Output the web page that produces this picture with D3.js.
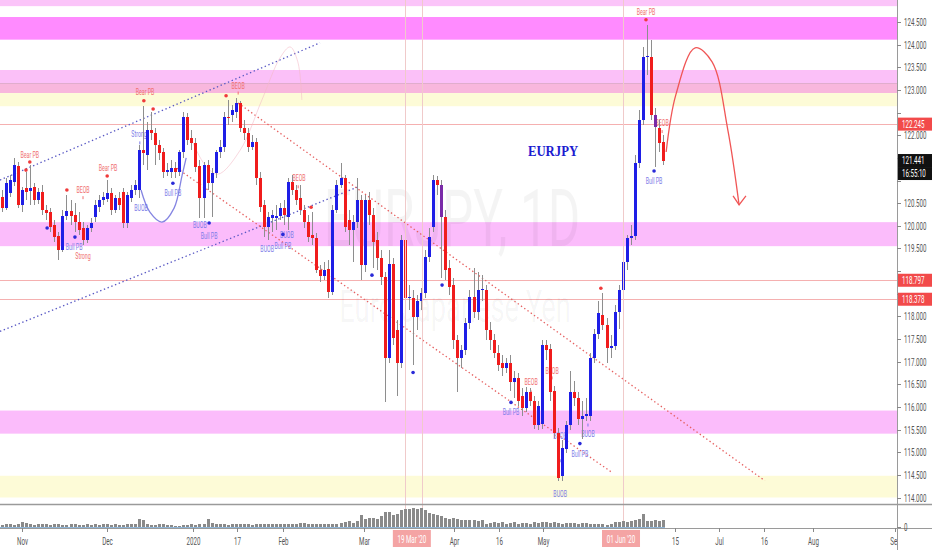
<!DOCTYPE html>
<html><head><meta charset="utf-8">
<script src="https://cdnjs.cloudflare.com/ajax/libs/d3/7.8.5/d3.min.js"></script>
<style>html,body{margin:0;padding:0;background:#fff;}svg{display:block;}</style>
</head><body><svg id="c" width="932" height="550"></svg>
<script>
// ---------------- DATA ----------------
const opens = [
120.63,120.39,120.72,120.96,121.32,120.46,120.83,120.77,120.85,120.57,
120.74,120.35,120.30,120.01,119.77,119.46,120.21,120.32,120.23,120.08,
119.95,119.68,119.95,120.19,120.41,120.57,120.59,120.72,120.35,120.61,
120.74,120.06,120.61,120.79,120.79,121.67,121.56,122.12,122.05,121.78,
121.63,121.19,121.19,121.27,121.19,121.63,122.40,121.94,121.83,121.32,
120.61,121.34,120.94,121.16,121.63,121.74,122.40,122.45,122.51,122.71,
122.16,122.05,121.74,121.85,121.05,120.46,119.97,120.17,120.17,120.21,
120.39,120.19,120.96,120.79,120.61,120.35,120.08,119.79,119.73,119.02,
118.89,119.04,118.53,120.35,120.90,121.05,120.12,119.90,120.08,120.57,
119.13,120.57,120.23,119.68,119.28,118.86,117.09,119.15,117.69,116.96,
119.68,118.40,118.40,117.98,118.35,118.51,119.31,119.97,121.01,120.90,
120.19,119.06,118.69,117.47,117.07,117.25,117.85,118.42,118.09,118.58,
118.58,117.69,117.47,117.20,116.98,116.87,116.98,116.54,116.63,116.25,
115.97,116.32,116.14,115.59,115.63,117.36,117.29,116.36,115.43,114.48,
115.08,115.59,116.32,116.19,115.74,115.81,115.81,117.09,117.62,118.02,
117.80,117.31,117.34,118.09,118.58,119.20,119.73,119.77,121.38,122.34,
123.72,123.73,122.45,122.16,121.85];
const closes = [
120.39,120.94,121.01,121.34,120.46,120.79,120.74,120.83,120.57,120.74,
120.35,120.28,119.97,119.75,119.46,120.21,120.32,120.21,120.08,119.90,
119.68,119.95,120.06,120.46,120.57,120.63,120.72,120.35,120.61,120.46,
120.06,120.68,120.79,120.90,121.67,121.61,122.12,122.05,121.78,121.61,
121.19,121.23,121.27,121.19,121.63,122.40,121.89,121.83,121.30,120.61,
121.34,120.94,121.16,121.63,121.74,122.40,122.38,122.56,122.71,122.16,
122.05,121.74,121.85,121.05,120.41,119.97,120.19,120.23,120.21,120.39,
120.23,120.96,120.79,120.57,120.35,120.08,119.75,119.73,119.02,118.89,
119.02,118.53,120.35,120.90,121.05,119.97,119.90,120.08,120.57,119.13,
120.57,120.23,119.64,119.28,118.86,117.09,119.15,117.53,116.96,119.68,
118.40,118.42,117.98,118.35,118.51,119.31,119.75,121.01,120.90,120.19,
119.02,118.64,117.47,117.07,117.25,117.85,118.42,118.09,118.58,118.60,
117.69,117.47,117.20,116.92,116.87,116.96,116.54,116.63,116.14,115.97,
116.32,116.14,115.59,116.03,117.36,117.25,116.32,115.43,114.44,115.10,
115.59,116.32,116.19,115.74,115.81,115.85,117.09,117.62,118.07,117.80,
117.31,117.34,118.09,118.58,119.20,119.73,119.77,121.38,122.34,123.73,
123.74,122.45,122.18,121.83,121.44];
const highs = [
120.79,121.05,121.12,121.50,121.41,120.85,121.19,121.34,120.94,120.83,
120.90,120.46,120.39,120.12,119.86,120.35,120.68,120.57,120.50,120.30,
120.08,120.01,120.17,120.57,120.68,120.74,121.01,120.83,120.68,120.74,
120.83,120.74,120.90,121.01,121.78,122.65,122.29,122.51,122.16,121.89,
121.72,121.38,121.45,121.41,121.67,122.51,122.49,122.12,121.94,121.45,
121.41,121.45,121.27,121.67,121.89,122.51,122.78,122.67,122.82,122.76,
122.34,122.16,122.00,121.94,121.19,120.57,120.30,120.35,120.46,120.50,
120.57,121.05,121.12,120.90,120.90,120.46,120.23,120.30,119.85,119.13,
119.20,119.24,120.46,121.01,121.38,121.12,120.35,120.23,121.05,120.68,
120.68,120.74,120.39,119.86,119.46,118.97,119.46,119.28,117.91,119.79,
119.90,118.69,118.58,118.47,118.62,119.46,119.95,121.12,121.10,121.01,
120.35,119.24,118.84,117.58,117.36,117.96,118.58,119.06,118.97,118.91,
118.69,117.87,117.62,117.36,117.14,117.07,117.14,116.80,116.76,116.41,
116.45,116.41,116.25,116.14,117.47,117.47,117.40,116.47,115.54,115.26,
115.70,116.80,116.58,116.32,116.14,116.19,117.20,117.73,118.35,118.51,
117.96,117.58,118.24,118.69,119.35,119.79,120.01,121.56,122.56,123.95,
124.44,124.11,122.60,122.34,122.00];
const lows = [
120.30,120.35,120.63,120.88,120.39,120.30,120.57,120.46,120.46,120.48,
120.23,120.12,119.86,119.64,119.24,119.42,120.12,120.01,119.86,119.79,
119.57,119.62,119.86,120.08,120.30,120.46,120.52,120.23,120.28,120.35,
119.95,119.95,120.52,120.68,120.61,121.34,121.23,121.89,121.34,121.45,
121.05,121.10,121.05,121.05,121.10,121.50,121.78,121.67,121.19,120.17,
120.17,120.79,120.19,121.05,121.50,121.63,122.23,122.29,122.38,122.07,
121.89,121.63,121.67,120.90,120.30,119.75,119.68,119.86,119.90,120.12,
120.01,119.90,120.68,120.46,120.23,119.95,119.64,119.57,118.95,118.75,
118.80,118.40,118.47,120.28,120.83,119.86,119.57,119.20,119.95,118.80,
118.97,120.01,119.06,119.02,118.69,116.10,116.98,117.36,116.25,116.85,
118.24,118.13,116.92,117.69,118.13,118.40,119.20,119.86,120.68,118.84,
118.80,118.47,117.29,116.32,116.85,117.14,117.73,117.96,117.91,118.35,
117.47,117.25,117.07,116.80,116.69,116.76,116.36,116.19,116.03,115.81,
115.88,116.03,115.52,115.48,115.52,117.03,116.14,115.32,114.37,114.37,
114.99,115.48,116.03,115.59,115.30,115.70,115.70,116.98,117.51,117.69,
116.98,117.07,117.25,117.73,118.47,119.02,119.57,119.68,121.27,122.23,
123.33,122.34,121.30,121.63,121.34];
const volumes = [
12,14,15,13,18,
25,20,15,12,18,15,14,12,16,18,13,12,14,15,12,13,14,12,15,13,14,
14,12,15,13,12,14,16,15,40,32,14,13,12,15,14,12,10,8,9,10,12,14,
12,15,18,38,20,16,14,15,13,14,16,15,17,14,13,15,16,18,17,16,15,17,
16,18,17,15,19,20,18,16,15,17,18,16,14,15,
20,25,28,22,30,58,
40,42,45,38,50,68,70,55,60,80,85,82,88,85,86,80,65,62,58,50,45,40,
45,40,36,35,34,35,30,32,18,22,24,22,25,15,22,24,18,22,20,18,24,
20,26,24,22,25,20,18,22,20,19,18,22,20,18,15,18,16,12,14,25,24,
28,26,30,32,40,63,30,28,35,30,32];
const purpleBars = [109, 162];

const priceTicks = [114,114.5,115,115.5,116,116.5,117,117.5,118,118.5,119,119.5,120,120.5,121,121.5,122,122.5,123,123.5,124,124.5];
const timeTickLabels = ["Nov","Dec","2020","17","Feb","Mar","Apr","16","May","15","Jul","16","Aug","Sep"];
const timeTickIndex  = [5,26,47.4,58.3,69.8,89.8,112.2,123.3,134.2,167,178,189,201.2,221.6];
const highlightDates = ["19 Mar '20","01 Jun '20"];
const highlightIndex = [101.7,153.6];
const verticalLineIndex = [100,104.3,154];

// zones (price ranges)
const zoneLow  = [124.85,124.11,123.15,122.93,122.64,119.55,115.41,114.00];
const zoneHigh = [125.20,124.61,123.44,123.15,122.93,120.08,115.92,114.48];
const levelLines = [122.245,118.797,118.378];
const lastPrice = 121.441;
const countdown = "16:55:10";

// trend lines [idx1, price1, idx2, price2]
const blueChannel = [[-0.5,121.01,78.9,124.04],[-0.5,117.67,88.1,120.85]];
const redChannel  = [[58.6,122.71,189.3,114.37],[43.4,121.27,151.4,114.55]];
const blueArc = [[34.5,120.79],[36.7,120.30],[39.7,120.08],[42.7,120.39],[44.7,121.12],[45.7,121.50]];
const pinkArc = [[47.4,121.83],[50.4,121.34],[53.6,121.14],[59.1,121.67],[64.5,122.78],[69.0,123.71],[71.5,123.95],[73.4,123.62],[74.4,122.78]];
const redArrow = [[164.8,121.63],[167.2,122.89],[172.0,123.93],[176.2,123.62],[180.1,122.12],[182.9,120.46]];
const arrowHead = [[181.4,120.66],[182.9,120.46],[184.6,120.66]];

// indicator annotations
const bearText  = ["Bear PB","BEOB","Bear PB","Bear PB","BEOB","BEOB","BEOB","BEOB","Bear PB","BEOB","Strong"];
const bearIdx   = [6.9,20.1,26.3,35.5,58.6,73.7,131.3,136.5,159.8,163.8,20.1];
const bearPrice = [121.56,120.79,121.27,122.95,123.09,121.05,116.54,116.80,124.72,122.27,119.33];
const bullText  = ["Bull PB","Strong","BUOB","Bull PB","BUOB","Bull PB","BUOB","BUOB","Bull PB","Bull PB","BUOB","BUOB","Bull PB","BUOB","Bull PB"];
const bullIdx   = [17.9,34.0,34.5,42.4,49.1,51.4,65.8,70.7,69.7,126.3,138.5,145.4,143.4,138.5,161.8];
const bullPrice = [119.53,122.03,120.39,120.72,120.01,119.78,119.48,119.80,119.55,115.88,115.35,115.41,114.97,114.08,120.99];
const bearDotIdx   = [5.95,6.9,16.1,26.1,35.2,37.5,55.6,76.7,148.6,159.8];
const bearDotPrice = [121.23,121.41,120.79,121.10,122.76,122.58,122.87,120.41,118.62,124.55];
const bullDotIdx   = [11.2,18.1,42.4,51.4,69.7,91.8,102,109.2,126.3,143.4,161.8];
const bullDotPrice = [119.95,119.75,120.94,120.06,119.81,118.91,116.76,118.69,116.10,115.19,121.21];
const bearMarkIdx = [20.1,58.6,73.5,131.3,136.5,163.8];
const bearMarkPrice = [120.61,122.92,120.85,116.32,116.63,122.07];
const bullMarkIdx = [34.2,138.5,145.4];
const bullMarkPrice = [121.82,114.80,115.59];

// ---------------- DRAW ----------------
const SX = 0.62; // horizontal squeeze of the screenshot text
const AX = 897, MAINB = 503;
const svg = d3.select("#c");
const x = d3.scaleLinear().domain([0,164]).range([2, 2+164*4.03]);
const y = d3.scaleLinear().domain([114,124.5]).range([497.5,22]);
const yv = d3.scaleLinear().domain([0,90]).range([527.5,507.5]);
const FONT = "Roboto, 'Open Sans', sans-serif";

const defs = svg.append("defs");
defs.append("clipPath").attr("id","cm").append("rect").attr("x",0).attr("y",0).attr("width",AX).attr("height",MAINB);
defs.append("clipPath").attr("id","cv").append("rect").attr("x",0).attr("y",505).attr("width",AX).attr("height",23);
defs.append("clipPath").attr("id","ca").append("rect").attr("x",0).attr("y",528).attr("width",AX).attr("height",22);

function txt(parent, px, py, s, o) {
  o = o || {};
  const t = parent.append("text")
    .attr("transform", `translate(${px},${py}) scale(${o.sx||SX},1)`)
    .attr("font-family", o.family || FONT)
    .attr("font-size", o.size || 9)
    .attr("fill", o.fill || "#444")
    .attr("text-anchor", o.anchor || "start")
    .text(s);
  if (o.weight) t.attr("font-weight", o.weight);
  if (o.opacity != null) t.attr("fill-opacity", o.opacity);
  return t;
}

svg.append("rect").attr("width",932).attr("height",550).attr("fill","#fff");

const main = svg.append("g").attr("clip-path","url(#cm)");
const zoneColors = ["#fbc4f9","#ff8bff","#fbc0f8","#f8b7dd","#fdfbd7","#fbbcfb","#fbbcfb","#fdfbd7"];
zoneLow.forEach((lo,i)=>{
  main.append("rect").attr("x",0).attr("width",AX)
    .attr("y", y(zoneHigh[i])).attr("height", y(lo)-y(zoneHigh[i]))
    .attr("fill", zoneColors[i]);
});
main.append("line").attr("x1",0).attr("x2",AX).attr("y1",Math.round(y(123.15))+0.5).attr("y2",Math.round(y(123.15))+0.5)
  .attr("stroke","#d9a8c8").attr("stroke-width",0.8);
levelLines.forEach(v=>{
  main.append("line").attr("x1",0).attr("x2",AX).attr("y1",Math.round(y(v))+0.5).attr("y2",Math.round(y(v))+0.5)
    .attr("stroke","#f5b0b0").attr("stroke-width",1);
});

// vertical lines (across panes)
verticalLineIndex.forEach(v=>{
  svg.append("line").attr("x1",Math.round(x(v))+0.5).attr("x2",Math.round(x(v))+0.5).attr("y1",0).attr("y2",528)
    .attr("stroke","#f0caca").attr("stroke-width",1);
});

// watermark
txt(main, 452, 246, "EURJPY, 1D", {size:80, fill:"#000", opacity:0.045, anchor:"middle"});
txt(main, 455, 322, "Euro Japanese Yen", {size:44, fill:"#000", opacity:0.045, anchor:"middle"});

// trend lines
const dotted = "1.4,2.6";
blueChannel.forEach(l=>{
  main.append("line").attr("x1",x(l[0])).attr("y1",y(l[1])).attr("x2",x(l[2])).attr("y2",y(l[3]))
    .attr("stroke","#5858c4").attr("stroke-width",1.3).attr("stroke-dasharray",dotted);
});
redChannel.forEach(l=>{
  main.append("line").attr("x1",x(l[0])).attr("y1",y(l[1])).attr("x2",x(l[2])).attr("y2",y(l[3]))
    .attr("stroke","#e66060").attr("stroke-width",1.3).attr("stroke-dasharray",dotted);
});
const curve = d3.line().x(d=>x(d[0])).y(d=>y(d[1])).curve(d3.curveCatmullRom);
main.append("path").attr("d",curve(pinkArc)).attr("fill","none").attr("stroke","#f3b9c6").attr("stroke-opacity",0.7).attr("stroke-width",0.8);
main.append("path").attr("d",curve(blueArc)).attr("fill","none").attr("stroke","#8585e2").attr("stroke-width",1.3);

// annotation labels (behind candles)
bearText.forEach((s,i)=> txt(main, x(bearIdx[i]), y(bearPrice[i])+3, s, {size:8.5, fill:"#f07070", anchor:"middle"}));
bullText.forEach((s,i)=> txt(main, x(bullIdx[i]), y(bullPrice[i])+3, s, {size:8.5, fill:"#7c7ce8", anchor:"middle"}));
bearMarkIdx.forEach((v,i)=> main.append("rect").attr("x",x(v)-0.5).attr("y",y(bearMarkPrice[i])-2).attr("width",1).attr("height",3).attr("fill","#f07070"));
bullMarkIdx.forEach((v,i)=> main.append("rect").attr("x",x(v)-0.5).attr("y",y(bullMarkPrice[i])-2).attr("width",1).attr("height",3).attr("fill","#7c7ce8"));

// candles
const idx = d3.range(opens.length);
const cg = main.append("g").attr("shape-rendering","crispEdges");
cg.selectAll("line.w").data(idx).join("line")
  .attr("x1",i=>Math.round(x(i))+0.5).attr("x2",i=>Math.round(x(i))+0.5)
  .attr("y1",i=>y(highs[i])).attr("y2",i=>y(lows[i]))
  .attr("stroke","#8e8e8e").attr("stroke-width",1);
cg.selectAll("rect.b").data(idx).join("rect")
  .attr("x",i=>Math.round(x(i))-1).attr("width",3)
  .attr("y",i=>y(Math.max(opens[i],closes[i])))
  .attr("height",i=>Math.max(1, Math.abs(y(opens[i])-y(closes[i]))))
  .attr("fill",i=> purpleBars.includes(i) ? "#7a2aa8" : (closes[i]>=opens[i] ? "#1e1ee6" : "#f01c1c"));

// dots
bearDotIdx.forEach((v,i)=> main.append("circle").attr("cx",x(v)).attr("cy",y(bearDotPrice[i])).attr("r",1.8).attr("fill","#f03a3a"));
bullDotIdx.forEach((v,i)=> main.append("circle").attr("cx",x(v)).attr("cy",y(bullDotPrice[i])).attr("r",1.8).attr("fill","#2a2ad8"));

// red forecast arrow
main.append("path").attr("d",curve(redArrow)).attr("fill","none").attr("stroke","#f05656").attr("stroke-width",1.3);
main.append("path").attr("d",d3.line().x(d=>x(d[0])).y(d=>y(d[1]))(arrowHead)).attr("fill","none").attr("stroke","#f05656").attr("stroke-width",1.3);

// title text
txt(main, 553, 156, "EURJPY", {size:15, fill:"#1c1cd0", family:"'Liberation Serif','DejaVu Serif',serif", weight:"bold", anchor:"middle", sx:0.85});

// volume pane
const vg = svg.append("g").attr("clip-path","url(#cv)").attr("shape-rendering","crispEdges");
vg.selectAll("rect").data(idx).join("rect")
  .attr("x",i=>Math.round(x(i))-1).attr("width",3)
  .attr("y",i=>yv(volumes[i])).attr("height",i=>yv(0)-yv(volumes[i]))
  .attr("fill","#8a8a8a");
vg.append("line").attr("x1",0).attr("x2",x(164)+2).attr("y1",527).attr("y2",527).attr("stroke","#8fb6d8").attr("stroke-width",1);

// pane separators
svg.append("line").attr("x1",0).attr("x2",932).attr("y1",504.5).attr("y2",504.5).attr("stroke","#9a9a9a").attr("stroke-width",1.5);
svg.append("line").attr("x1",0).attr("x2",932).attr("y1",528.5).attr("y2",528.5).attr("stroke","#9a9a9a").attr("stroke-width",1);
svg.append("line").attr("x1",AX+0.5).attr("x2",AX+0.5).attr("y1",0).attr("y2",550).attr("stroke","#9a9a9a").attr("stroke-width",1);

// price axis
const ax = svg.append("g");
const tagCenters = [y(levelLines[0]), y(lastPrice), y(lastPrice)+13, y(levelLines[1]), y(levelLines[2])];
priceTicks.forEach(v=>{
  const py = Math.round(y(v))+0.5;
  ax.append("line").attr("x1",AX).attr("x2",AX+4).attr("y1",py).attr("y2",py).attr("stroke","#888");
  const hidden = tagCenters.some(c => Math.abs(c-py) < 11);
  if (!hidden) txt(ax, AX+7, py+3.3, d3.format(".3f")(v), {size:10, fill:"#555"});
});
ax.append("line").attr("x1",AX).attr("x2",AX+4).attr("y1",527.5).attr("y2",527.5).attr("stroke","#888");
txt(ax, AX+7, 530.5, "0", {size:10, fill:"#555"});

function tag(v, bg, label, dy) {
  const py = y(v) + (dy||0);
  ax.append("rect").attr("x",AX+1).attr("y",py-6.5).attr("width",932-AX-1).attr("height",13).attr("fill",bg);
  txt(ax, AX+5, py+3.5, label, {size:10, fill:"#fff"});
}
tag(levelLines[0], "#f24a4a", d3.format(".3f")(levelLines[0]));
tag(lastPrice, "#111", d3.format(".3f")(lastPrice));
tag(lastPrice, "#111", countdown, 13);
tag(levelLines[1], "#f24a4a", d3.format(".3f")(levelLines[1]));
tag(levelLines[2], "#f24a4a", d3.format(".3f")(levelLines[2]));

// time axis
const tx = svg.append("g").attr("clip-path","url(#ca)");
timeTickLabels.forEach((s,i)=>{
  const px = Math.round(x(timeTickIndex[i]))+0.5;
  tx.append("line").attr("x1",px).attr("x2",px).attr("y1",528).attr("y2",532).attr("stroke","#888");
  txt(tx, px, 545, s, {size:10, fill:"#555", anchor:"middle"});
});
highlightDates.forEach((s,i)=>{
  const px = x(highlightIndex[i]);
  tx.append("rect").attr("x",px-19).attr("y",530).attr("width",38).attr("height",17).attr("fill","#f4a4a4");
  txt(tx, px, 543, s, {size:10, fill:"#fff", anchor:"middle"});
});
</script></body></html>
